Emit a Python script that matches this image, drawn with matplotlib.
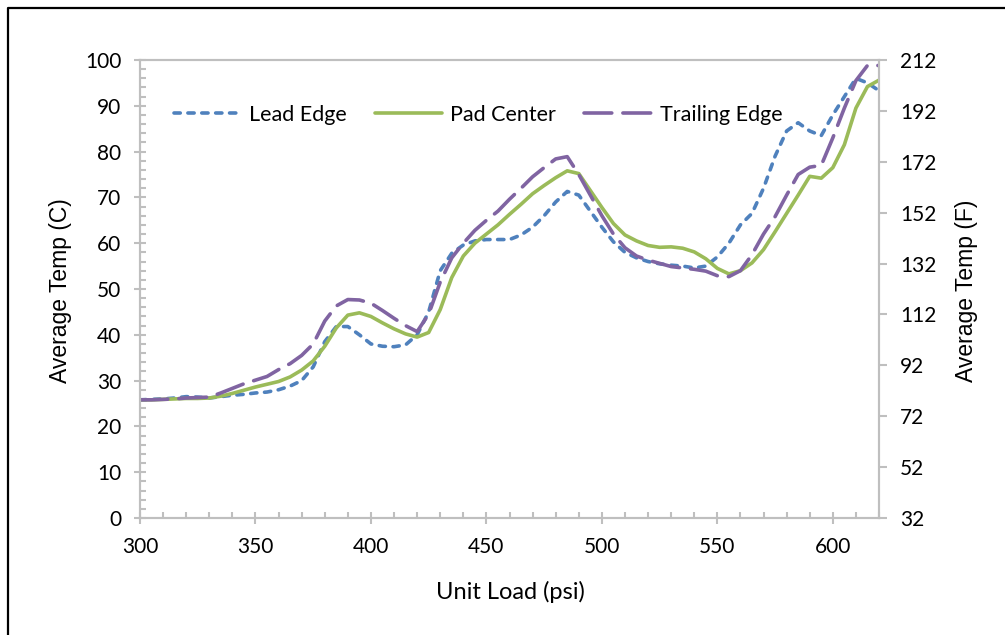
import matplotlib
matplotlib.use('Agg')
import matplotlib.pyplot as plt
from matplotlib.lines import Line2D
from matplotlib.ticker import MultipleLocator

plt.rcParams['lines.scale_dashes'] = False

unit_load = [300, 305, 310, 315, 320, 325, 330, 335, 340, 345,
             350, 355, 360, 365, 370, 375, 380, 385, 390, 395,
             400, 405, 410, 415, 420, 425, 430, 435, 440, 445,
             450, 455, 460, 465, 470, 475, 480, 485, 490, 495,
             500, 505, 510, 515, 520, 525, 530, 535, 540, 545,
             550, 555, 560, 565, 570, 575, 580, 585, 590, 595,
             600, 605, 610, 615, 620]

lead_edge = [25.8, 25.9, 26.0, 26.2, 26.5, 26.4, 26.2, 26.5, 26.8, 27.0,
             27.3, 27.5, 28.0, 28.8, 30.0, 33.0, 38.5, 41.8, 41.8, 40.0,
             38.0, 37.5, 37.4, 37.8, 40.0, 45.0, 54.0, 57.8, 59.6, 60.5,
             60.8, 60.8, 60.8, 61.8, 63.5, 66.0, 69.0, 71.3, 70.5, 67.0,
             63.5, 60.3, 58.0, 56.8, 56.0, 55.5, 55.2, 55.0, 54.6, 55.0,
             57.0, 60.0, 64.0, 66.5, 72.0, 79.0, 84.5, 86.3, 84.5, 83.5,
             88.0, 92.0, 96.0, 95.0, 93.3]

pad_center = [25.8, 25.8, 25.9, 26.0, 26.1, 26.1, 26.2, 26.6, 27.2, 27.9,
              28.6, 29.2, 29.8, 30.8, 32.3, 34.3, 37.5, 41.5, 44.3, 44.8,
              44.0, 42.6, 41.3, 40.2, 39.5, 40.5, 45.5, 52.5, 57.2, 60.0,
              62.0, 64.0, 66.3, 68.5, 70.8, 72.6, 74.3, 75.8, 75.2, 71.5,
              67.8, 64.3, 61.8, 60.5, 59.5, 59.1, 59.2, 58.9, 58.1, 56.6,
              54.5, 53.3, 54.0, 55.7, 58.6, 62.5, 66.5, 70.5, 74.6, 74.2,
              76.5, 81.5, 89.5, 94.2, 95.6]

trailing_edge = [25.8, 25.8, 25.9, 26.0, 26.2, 26.3, 26.4, 27.3, 28.3, 29.3,
                 30.1, 30.9, 32.4, 33.7, 35.5, 38.0, 43.0, 46.3, 47.7, 47.6,
                 46.9, 45.3, 43.6, 42.0, 40.7, 44.5, 51.5, 56.8, 60.0, 62.8,
                 65.0, 67.0, 69.6, 72.0, 74.5, 76.5, 78.4, 78.9, 75.0, 70.5,
                 66.0, 62.0, 59.0, 57.2, 56.3, 55.6, 54.9, 54.6, 54.3, 53.9,
                 52.9, 52.7, 54.0, 57.5, 62.0, 65.8, 70.5, 75.0, 76.6, 77.0,
                 83.0, 89.5, 95.5, 98.8, 98.8]

f_ticks = [32, 52, 72, 92, 112, 132, 152, 172, 192, 212]

tick_font = 'Lato'
label_font = 'Liberation Sans'
spine_col = '#BFBFBF'
lw = 2.6

fig = plt.figure(figsize=(10.05, 6.35), dpi=100)
ax = fig.add_axes([140/1005, 1 - 518/635, 739/1005, 458/635])

ax.plot(unit_load, lead_edge, color='#4F81BD', lw=lw,
        linestyle=(0, (4.5, 5.5)), dash_capstyle='round',
        dash_joinstyle='round', label='Lead Edge')
ax.plot(unit_load, pad_center, color='#9BBB59', lw=lw,
        solid_capstyle='round', solid_joinstyle='round', label='Pad Center')
ax.plot(unit_load, trailing_edge, color='#8064A2', lw=lw,
        linestyle=(0, (20, 8)), dash_capstyle='round',
        dash_joinstyle='round', label='Trailing Edge')

ax.set_xlim(300, 620)
ax.set_ylim(0, 100)
ax.xaxis.set_major_locator(MultipleLocator(50))
ax.xaxis.set_minor_locator(MultipleLocator(10))
ax.yaxis.set_major_locator(MultipleLocator(10))
ax.yaxis.set_minor_locator(MultipleLocator(2))

for s in ax.spines.values():
    s.set_color(spine_col)
    s.set_linewidth(1.5)

ax.tick_params(which='major', direction='inout', length=9, width=1.5,
               color=spine_col, labelsize=15, pad=9)
ax.tick_params(which='minor', direction='in', length=4, width=1.5,
               color=spine_col)
for lab in ax.get_xticklabels() + ax.get_yticklabels():
    lab.set_family(tick_font)

ax2 = ax.twinx()
ax2.set_ylim(32, 212)
ax2.set_yticks(f_ticks)
for s in ax2.spines.values():
    s.set_color(spine_col)
    s.set_linewidth(1.5)
ax2.tick_params(axis='y', direction='out', length=6, width=1.5,
                color=spine_col, labelsize=15, pad=9)
for lab in ax2.get_yticklabels():
    lab.set_family(tick_font)

fig.text(510/1005, 1 - 592/635, 'Unit Load (psi)', ha='center', va='center',
         fontsize=17, family=tick_font)
fig.text(61/1005, 1 - 291/635, 'Average Temp (C)', ha='center', va='center',
         rotation=90, fontsize=16.5, family=label_font)
fig.text(966/1005, 1 - 291/635, 'Average Temp (F)', ha='center', va='center',
         rotation=90, fontsize=16.5, family=label_font)

leg = ax.legend(loc='center', bbox_to_anchor=(478/1005, 1 - 115/635),
                bbox_transform=fig.transFigure, ncol=3, frameon=False,
                handlelength=3.1, handletextpad=0.4, columnspacing=1.3,
                prop={'family': tick_font, 'size': 15.5})

# outer chart frame (left and top edges visible)
fig.add_artist(Line2D([8/1005, 8/1005, 1], [0, 1 - 8/635, 1 - 8/635],
                      transform=fig.transFigure, color='black', lw=1.6))

fig.savefig('out.png', dpi=100)
